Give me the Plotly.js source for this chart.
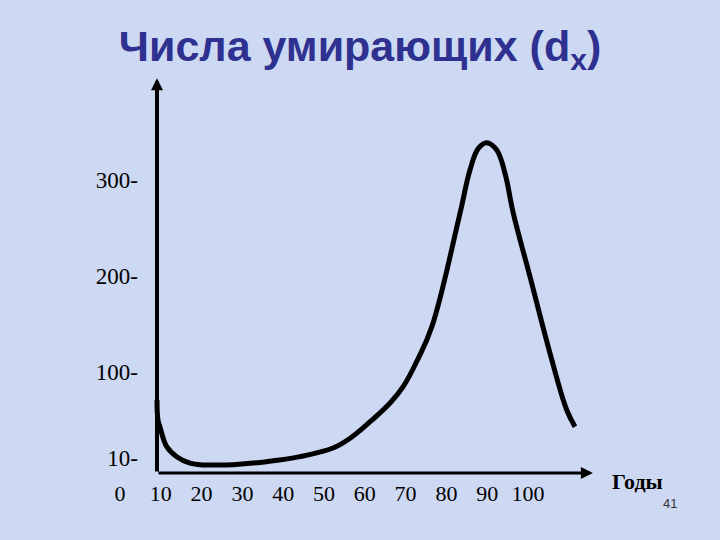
<!DOCTYPE html>
<html>
<head>
<meta charset="utf-8">
<script src="https://cdn.plot.ly/plotly-3.0.1.min.js"></script>
<style>html,body{margin:0;padding:0;background:#cdd8f2;}#chart{width:720px;height:540px;}</style>
</head>
<body>
<div id="chart"></div>
<script>
// Age (years, in the slide's tick scale) and number of deaths d_x
const ages   = [9.07, 9.31, 9.8, 11.45, 13.9, 17.16, 19.6, 23.5, 27.7, 35.9, 44.1, 52.2, 56.4, 61.3, 66.2, 69.4, 72.9, 76.5, 83.33, 85.78, 87.82, 89.88, 92.33, 94.36, 96.4, 100.49, 105.39, 109.49, 111.52];
const deaths = [70.8, 50, 42.7, 22.2, 11.8, 5.0, 3.5, 3.0, 3.5, 6.6, 11.8, 20.8, 31, 48.2, 67.7, 84.7, 112.5, 148, 265.3, 310.4, 333.0, 338.9, 331.3, 307.0, 265.3, 199.3, 119.5, 60.4, 43.0];

const xTickVals = [0, 10, 20, 30, 40, 50, 60, 70, 80, 90, 100];
const xTickText = ['0', '10', '20', '30', '40', '50', '60', '70', '80', '90', '100'];
const yTickVals = [10, 100, 200, 300];
const yTickText = ['10-', '100-', '200-', '300-'];

const axisX0 = 9.07, axisXEnd = 115.9, axisY0 = -5.2, axisYEnd = 406;

const trace = {
  x: ages, y: deaths, type: 'scatter', mode: 'lines',
  line: {color: '#000000', width: 5, shape: 'spline', smoothing: 1.1},
  hoverinfo: 'skip'
};

const layout = {
  width: 720, height: 540,
  paper_bgcolor: '#cdd8f2', plot_bgcolor: 'rgba(0,0,0,0)',
  margin: {l: 60, r: 60, t: 70, b: 62},
  showlegend: false,
  title: {
    text: 'Числа умирающих (d<sub>x</sub>)',
    x: 0.5, xref: 'container', y: 0.915, yref: 'container', yanchor: 'middle',
    font: {family: 'Liberation Sans, Arial, sans-serif', size: 43, color: '#2e3190', weight: 'bold'}
  },
  xaxis: {
    range: [-14.7, 132.35], showgrid: false, zeroline: false, showline: false,
    tickmode: 'array', tickvals: xTickVals, ticktext: xTickText, ticks: '',
    tickfont: {family: 'Liberation Serif, Times New Roman, serif', size: 22, color: '#000000'},
    fixedrange: true
  },
  yaxis: {
    range: [-10.42, 414.58], showgrid: false, zeroline: false, showline: false,
    anchor: 'free', position: 0.13,
    tickmode: 'array', tickvals: yTickVals, ticktext: yTickText, ticks: '',
    tickfont: {family: 'Liberation Serif, Times New Roman, serif', size: 23, color: '#000000'},
    fixedrange: true
  },
  annotations: [
    {x: axisX0, y: axisYEnd, ax: axisX0, ay: axisY0, xref: 'x', yref: 'y', axref: 'x', ayref: 'y',
     text: '', showarrow: true, arrowhead: 2, arrowsize: 0.6, arrowwidth: 4, arrowcolor: '#000000'},
    {x: axisXEnd, y: axisY0, ax: axisX0, ay: axisY0, xref: 'x', yref: 'y', axref: 'x', ayref: 'y',
     text: '', showarrow: true, arrowhead: 2, arrowsize: 0.8, arrowwidth: 3, arrowcolor: '#000000'},
    {x: 0.962, y: -0.0074, xref: 'paper', yref: 'paper', xanchor: 'center', yanchor: 'middle',
     text: '<b>Годы</b>', showarrow: false,
     font: {family: 'Liberation Serif, Times New Roman, serif', size: 22, color: '#000000'}},
    {x: 1.0167, y: -0.0613, xref: 'paper', yref: 'paper', xanchor: 'center', yanchor: 'middle',
     text: '41', showarrow: false,
     font: {family: 'Liberation Sans, Arial, sans-serif', size: 13, color: '#333333'}}
  ]
};

Plotly.newPlot('chart', [trace], layout, {staticPlot: true, displayModeBar: false});
</script>
</body>
</html>
